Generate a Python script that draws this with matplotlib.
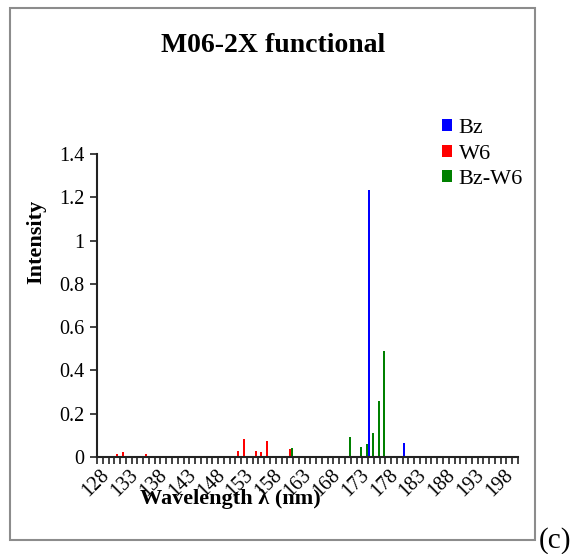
import matplotlib
matplotlib.use("Agg")
import matplotlib.pyplot as plt
import numpy as np
from matplotlib.patches import Patch, Rectangle

# category axis: wavelength (nm)
wavelengths = np.arange(128, 201)

# non-zero intensities
bz_wl = [158, 175, 181]
bz_int = [0.003, 1.235, 0.065]

w6_wl = [131, 132, 134, 136, 137, 140, 141, 152, 153, 155, 156, 157, 161]
w6_int = [0.012, 0.022, 0.005, 0.016, 0.005, 0.004, 0.004, 0.026, 0.082, 0.026, 0.021, 0.073, 0.036]

bzw6_wl = [160, 161, 171, 173, 174, 175, 176, 177]
bzw6_int = [0.003, 0.041, 0.092, 0.045, 0.060, 0.110, 0.258, 0.490]

series = [
    ("Bz", bz_wl, bz_int, "#0000FF"),
    ("W6", w6_wl, w6_int, "#FF0000"),
    ("Bz-W6", bzw6_wl, bzw6_int, "#008000"),
]

plt.rcParams["font.family"] = "Liberation Serif"

W, H = 578, 554
fig = plt.figure(figsize=(W / 100, H / 100), dpi=100)

# chart area border
fig.add_artist(Rectangle((10 / W, 1 - 540 / H), 525 / W, 532 / H, transform=fig.transFigure,
                         fill=False, edgecolor="#8c8c8c", linewidth=1.5))

ax = fig.add_axes([97 / W, 1 - 457 / H, 421 / W, 303 / H])

idx = np.arange(len(wavelengths))
bw = 0.34
for k, (name, wl, vals, color) in enumerate(series):
    full = np.zeros(len(wavelengths))
    for w, v in zip(wl, vals):
        full[w - wavelengths[0]] = v
    ax.bar(idx + (k - 1) * bw, full, width=bw, color=color, linewidth=0, label=name)

ax.set_xlim(-0.5, len(wavelengths) - 0.5)
ax.set_ylim(0, 1.4)

ax.set_yticks(np.arange(0, 1.41, 0.2))
ax.set_yticklabels(["0", "0.2", "0.4", "0.6", "0.8", "1", "1.2", "1.4"])

ax.set_xticks(idx[::5])
ax.set_xticklabels([str(w) for w in wavelengths[::5]], rotation=45, ha="right",
                   rotation_mode="anchor")
ax.set_xticks(np.arange(-0.5, len(wavelengths), 1.0), minor=True)
ax.tick_params(axis="x", which="major", length=0, pad=6, labelsize=14.5)
ax.tick_params(axis="x", which="minor", length=5, width=1.2, color="#222222", direction="out")
ax.tick_params(axis="y", length=5, width=1.2, color="#222222", labelsize=14.5, pad=4)

for side in ["top", "right"]:
    ax.spines[side].set_visible(False)
for side in ["left", "bottom"]:
    ax.spines[side].set_linewidth(1.5)
    ax.spines[side].set_color("#222222")

fig.text(273 / W, 1 - 46 / H, "M06-2X functional", ha="center", va="center",
         fontsize=20, fontweight="bold")
fig.text(36 / W, 1 - 242 / H, "Intensity", ha="center", va="center", rotation=90,
         fontsize=16, fontweight="bold")
fig.text(230 / W, 1 - 499 / H, "Wavelength λ (nm)", ha="center", va="center",
         fontsize=16, fontweight="bold")

handles = [Patch(facecolor=c, edgecolor="none") for _, _, _, c in series]
fig.legend(handles, [s[0] for s in series], loc="upper left",
           bbox_to_anchor=(442 / W, 1 - 119 / H), frameon=False, fontsize=16,
           handlelength=0.45, handleheight=0.45, handletextpad=0.3, labelspacing=0.3,
           borderaxespad=0, borderpad=0)

fig.text(539 / W, 1 - 541 / H, "(c)", ha="left", va="center", fontsize=21)

fig.savefig("out.png", dpi=100)
